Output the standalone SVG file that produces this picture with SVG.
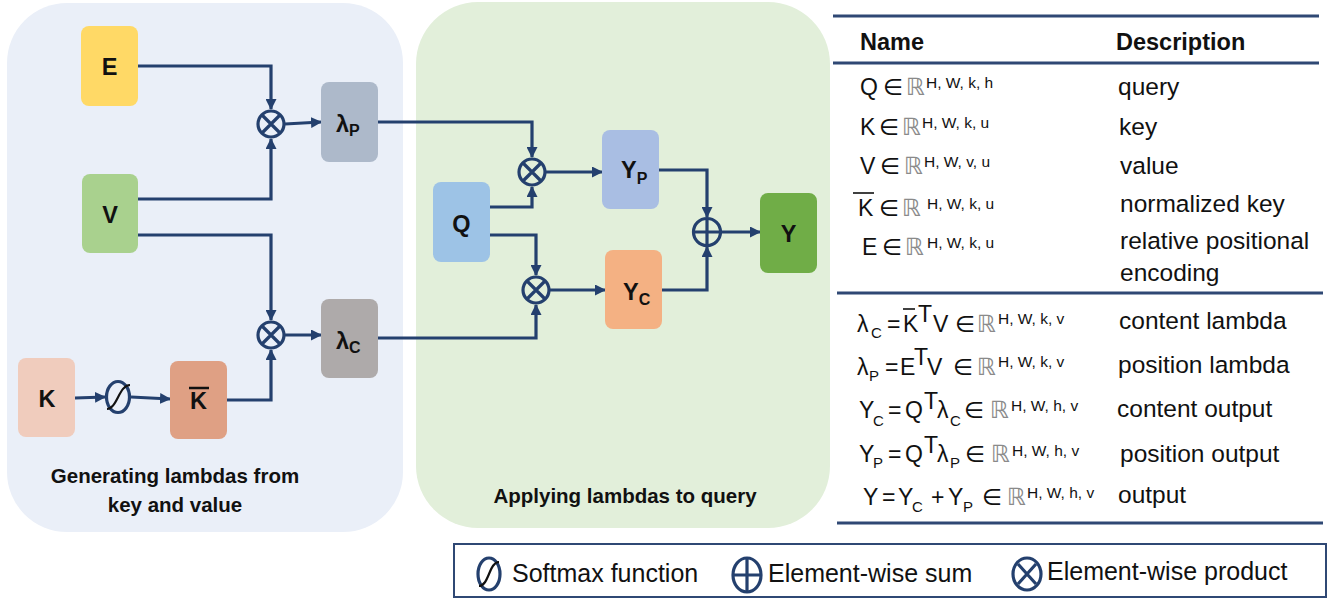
<svg xmlns="http://www.w3.org/2000/svg" width="1335" height="599" viewBox="0 0 1335 599">
<style>
  .node{stroke:none}
  .lbl{font-family:"Liberation Sans",Arial,sans-serif;font-weight:bold;font-size:23.5px;fill:#111}
  .sub{font-family:"Liberation Sans",Arial,sans-serif;font-weight:bold;font-size:16px;fill:#111}
  .conn{fill:none;stroke:#24406e;stroke-width:3.2}
  .op{fill:none;stroke:#24406e;stroke-width:3.2}
  .ptitle{font-family:"Liberation Sans",Arial,sans-serif;font-weight:bold;font-size:20.5px;fill:#111;text-anchor:middle}
  .th{font-family:"Liberation Sans",Arial,sans-serif;font-weight:bold;font-size:23.5px;fill:#111}
  .td{font-family:"Liberation Sans",Arial,sans-serif;font-size:24.5px;fill:#111}
  .m{font-family:"Liberation Sans","DejaVu Sans",sans-serif;font-size:23px;fill:#111}
  .ms{font-family:"Liberation Sans","DejaVu Sans",sans-serif;font-size:15px;fill:#111}
  .sup{font-family:"Liberation Sans",sans-serif;font-size:15.5px;fill:#111}
  .rr{font-family:"DejaVu Sans",sans-serif;font-size:24px;fill:#8a8a8a}
  .rule{stroke:#2f4874;stroke-width:3.2}
  .leg{font-family:"Liberation Sans",Arial,sans-serif;font-size:25px;fill:#111}
</style>
<defs>
  <marker id="ah" markerUnits="userSpaceOnUse" markerWidth="11" markerHeight="11" refX="10" refY="5.5" orient="auto">
    <path d="M0,0 L11,5.5 L0,11 z" fill="#24406e"/>
  </marker>
</defs>

<!-- panels -->
<g id="panel-generate">
  <rect x="7" y="3" width="396" height="529" rx="60" fill="#eaeff8"/>
  <text class="ptitle" x="175" y="483">Generating lambdas from</text>
  <text class="ptitle" x="175" y="512">key and value</text>
</g>
<g id="panel-apply">
  <rect x="416" y="2" width="414" height="526" rx="62" fill="#e2efda"/>
  <text class="ptitle" x="625" y="503">Applying lambdas to query</text>
</g>

<!-- connectors -->
<g id="connectors">
  <path class="conn" d="M138,66 H271 V109" marker-end="url(#ah)"/>
  <path class="conn" d="M138,199 H271 V139" marker-end="url(#ah)"/>
  <path class="conn" d="M285,124 L321,122" marker-end="url(#ah)"/>
  <path class="conn" d="M136,235 H271 V320" marker-end="url(#ah)"/>
  <path class="conn" d="M227,400 H271 V350" marker-end="url(#ah)"/>
  <path class="conn" d="M285,335 H321" marker-end="url(#ah)"/>
  <path class="conn" d="M75,398 L105,397" marker-end="url(#ah)"/>
  <path class="conn" d="M131,397 L170,399" marker-end="url(#ah)"/>
  <path class="conn" d="M378,122 H532 V157" marker-end="url(#ah)"/>
  <path class="conn" d="M490,207 H532 V187" marker-end="url(#ah)"/>
  <path class="conn" d="M490,235 H536 V275" marker-end="url(#ah)"/>
  <path class="conn" d="M378,338 H536 V305" marker-end="url(#ah)"/>
  <path class="conn" d="M546,172 H602" marker-end="url(#ah)"/>
  <path class="conn" d="M550,290 H605" marker-end="url(#ah)"/>
  <path class="conn" d="M659,170 H707 V217" marker-end="url(#ah)"/>
  <path class="conn" d="M662,290 H707 V247" marker-end="url(#ah)"/>
  <path class="conn" d="M721,232 H760" marker-end="url(#ah)"/>
</g>

<!-- nodes -->
<g id="node-E"><rect class="node" x="81" y="26" width="57" height="80" rx="8" fill="#ffd966"/><text class="lbl" x="109.5" y="75" text-anchor="middle">E</text></g>
<g id="node-V"><rect class="node" x="82" y="174" width="56" height="79" rx="8" fill="#a9d18e"/><text class="lbl" x="110" y="223" text-anchor="middle">V</text></g>
<g id="node-lambdaP"><rect class="node" x="321" y="82" width="57" height="80" rx="8" fill="#adb9ca"/><text class="lbl" x="336" y="132">λ<tspan class="sub" dy="4">P</tspan></text></g>
<g id="node-lambdaC"><rect class="node" x="321" y="299" width="57" height="79" rx="8" fill="#aeaaaa"/><text class="lbl" x="336" y="349">λ<tspan class="sub" dy="4">C</tspan></text></g>
<g id="node-K"><rect class="node" x="18" y="358" width="57" height="79" rx="8" fill="#f0ccbd"/><text class="lbl" x="47" y="407" text-anchor="middle">K</text></g>
<g id="node-Kbar"><rect class="node" x="170" y="361" width="57" height="78" rx="8" fill="#dfa084"/><text class="lbl" x="198.5" y="409" text-anchor="middle">K</text><line x1="189" y1="388" x2="209" y2="388" stroke="#111" stroke-width="2.5"/></g>
<g id="node-Q"><rect class="node" x="433" y="182" width="57" height="80" rx="8" fill="#9dc3e6"/><text class="lbl" x="461.5" y="232" text-anchor="middle">Q</text></g>
<g id="node-YP"><rect class="node" x="602" y="130" width="57" height="79" rx="8" fill="#a9bee3"/><text class="lbl" x="621" y="178">Y<tspan class="sub" dy="6">P</tspan></text></g>
<g id="node-YC"><rect class="node" x="605" y="250" width="57" height="79" rx="8" fill="#f4b183"/><text class="lbl" x="623" y="300">Y<tspan class="sub" dy="5">C</tspan></text></g>
<g id="node-Y"><rect class="node" x="760" y="193" width="57" height="80" rx="8" fill="#70ad47"/><text class="lbl" x="788.5" y="242" text-anchor="middle">Y</text></g>

<!-- operators -->
<g id="op-prod1"><circle class="op" cx="271" cy="124" r="13"/><path class="op" d="M262,115 L280,133 M280,115 L262,133"/></g>
<g id="op-prod2"><circle class="op" cx="271" cy="335" r="13"/><path class="op" d="M262,326 L280,344 M280,326 L262,344"/></g>
<g id="op-softmax"><ellipse class="op" cx="118" cy="397" rx="11.5" ry="15.5"/><path d="M107,409 C117,409 119,385 130,385" fill="none" stroke="#111" stroke-width="2.2"/></g>
<g id="op-prod3"><circle class="op" cx="532" cy="172" r="13"/><path class="op" d="M523,163 L541,181 M541,163 L523,181"/></g>
<g id="op-prod4"><circle class="op" cx="536" cy="290" r="13"/><path class="op" d="M527,281 L545,299 M545,281 L527,299"/></g>
<g id="op-sum"><circle class="op" cx="707" cy="232" r="13.5"/><path class="op" d="M707,218.5 V245.5 M693.5,232 H720.5"/></g>

<!-- table -->
<g id="table">
  <line class="rule" x1="833" y1="16" x2="1319" y2="16"/>
  <line class="rule" x1="833" y1="63" x2="1319" y2="63"/>
  <line class="rule" x1="837" y1="293" x2="1323" y2="293"/>
  <line class="rule" x1="837" y1="523" x2="1323" y2="523"/>
  <text class="th" x="860" y="50">Name</text>
  <text class="th" x="1116" y="50">Description</text>

  <text class="m" x="860" y="95">Q</text><text class="m" x="883" y="95">∈</text><text class="rr" x="906" y="95">ℝ</text><text class="sup" x="926" y="88">H, W, k, h</text>
  <text class="td" x="1118" y="95">query</text>

  <text class="m" x="860" y="135">K</text><text class="m" x="879" y="135">∈</text><text class="rr" x="902" y="135">ℝ</text><text class="sup" x="922" y="128">H, W, k, u</text>
  <text class="td" x="1119" y="135">key</text>

  <text class="m" x="860" y="174">V</text><text class="m" x="880" y="174">∈</text><text class="rr" x="904" y="174">ℝ</text><text class="sup" x="924" y="167">H, W, v, u</text>
  <text class="td" x="1120" y="174">value</text>

  <text class="m" x="858" y="216">K</text><line x1="853" y1="193" x2="874" y2="193" stroke="#111" stroke-width="1.6"/><text class="m" x="879" y="216">∈</text><text class="rr" x="902" y="216">ℝ</text><text class="sup" x="927" y="209">H, W, k, u</text>
  <text class="td" x="1120" y="212">normalized key</text>

  <text class="m" x="862" y="255">E</text><text class="m" x="882" y="255">∈</text><text class="rr" x="905" y="255">ℝ</text><text class="sup" x="927" y="248">H, W, k, u</text>
  <text class="td" x="1120" y="249">relative positional</text>
  <text class="td" x="1120" y="281">encoding</text>

  <!-- lambda C -->
  <text class="m" x="857" y="332">λ</text><text class="ms" x="871" y="338">C</text><text class="m" x="887" y="332">=</text>
  <text class="m" x="903" y="332">K</text><line x1="903" y1="309" x2="915" y2="309" stroke="#111" stroke-width="1.6"/>
  <text class="m" x="918" y="322">T</text><text class="m" x="933" y="332">V</text><text class="m" x="955" y="332">∈</text><text class="rr" x="977" y="332">ℝ</text><text class="sup" x="998" y="324">H, W, k, v</text>
  <text class="td" x="1119" y="329">content lambda</text>

  <!-- lambda P -->
  <text class="m" x="857" y="375">λ</text><text class="ms" x="869" y="381">P</text><text class="m" x="885" y="375">=</text>
  <text class="m" x="900" y="375">E</text><text class="m" x="914" y="365">T</text><text class="m" x="927" y="375">V</text><text class="m" x="953" y="375">∈</text><text class="rr" x="977" y="375">ℝ</text><text class="sup" x="998" y="367">H, W, k, v</text>
  <text class="td" x="1118" y="373">position lambda</text>

  <!-- Y C -->
  <text class="m" x="859" y="418">Y</text><text class="ms" x="873" y="426">C</text><text class="m" x="888" y="418">=</text>
  <text class="m" x="905" y="418">Q</text><text class="m" x="924" y="409">T</text><text class="m" x="937" y="418">λ</text><text class="ms" x="950" y="426">C</text>
  <text class="m" x="964" y="418">∈</text><text class="rr" x="990" y="418">ℝ</text><text class="sup" x="1011" y="411">H, W, h, v</text>
  <text class="td" x="1117" y="417">content output</text>

  <!-- Y P -->
  <text class="m" x="859" y="462">Y</text><text class="ms" x="873" y="468">P</text><text class="m" x="888" y="462">=</text>
  <text class="m" x="905" y="462">Q</text><text class="m" x="924" y="453">T</text><text class="m" x="937" y="462">λ</text><text class="ms" x="950" y="468">P</text>
  <text class="m" x="965" y="462">∈</text><text class="rr" x="991" y="462">ℝ</text><text class="sup" x="1012" y="456">H, W, h, v</text>
  <text class="td" x="1120" y="462">position output</text>

  <!-- Y -->
  <text class="m" x="863" y="505">Y</text><text class="m" x="882" y="505">=</text><text class="m" x="898" y="505">Y</text><text class="ms" x="912" y="512">C</text>
  <text class="m" x="931" y="505">+</text><text class="m" x="948" y="505">Y</text><text class="ms" x="963" y="512">P</text>
  <text class="m" x="982" y="505">∈</text><text class="rr" x="1007" y="505">ℝ</text><text class="sup" x="1027" y="498">H, W, h, v</text>
  <text class="td" x="1118" y="503">output</text>
</g>

<!-- legend -->
<g id="legend">
  <rect x="454" y="544" width="872" height="53" fill="#fff" stroke="#2f4874" stroke-width="2"/>
  <ellipse class="op" cx="489" cy="574" rx="11" ry="16"/><path d="M479,586 C489,586 489,562 499,562" fill="none" stroke="#111" stroke-width="2.2"/>
  <text class="leg" x="512" y="582">Softmax function</text>
  <ellipse class="op" cx="747" cy="575" rx="14" ry="17"/><path class="op" d="M747,558 V592 M733,575 H761"/>
  <text class="leg" x="768" y="582">Element-wise sum</text>
  <ellipse class="op" cx="1027" cy="574" rx="14" ry="16"/><path class="op" d="M1018,564 L1036,584 M1036,564 L1018,584"/>
  <text class="leg" x="1047" y="580">Element-wise product</text>
</g>
</svg>
